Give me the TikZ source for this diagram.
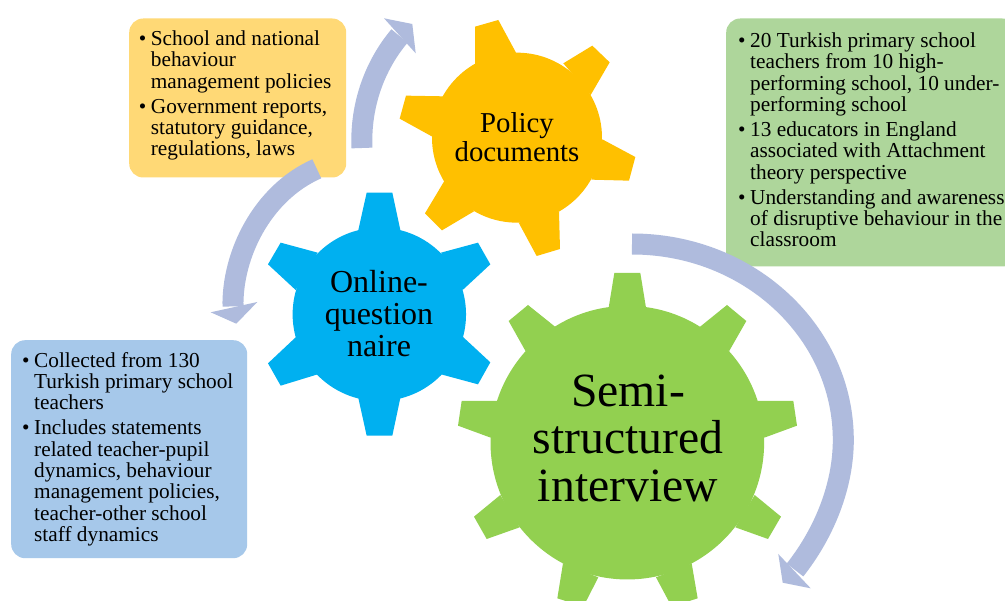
\documentclass[tikz,border=0pt]{standalone}
\usepackage{fontspec}
\setmainfont{Liberation Serif}
\definecolor{arrowc}{HTML}{AFBBDD}
\definecolor{goldc}{HTML}{FFC000}
\definecolor{bluec}{HTML}{00B0F0}
\definecolor{greenc}{HTML}{92D050}
\definecolor{boxy}{HTML}{FFD976}
\definecolor{boxg}{HTML}{AED69B}
\definecolor{boxb}{HTML}{A6C8EA}
\newcommand{\bul}{\makebox[0pt][r]{•\hspace{4.5pt}}}
\tikzset{
  infobox/.style={rounded corners=14pt,anchor=north west,inner sep=0pt},
  infotext/.style={anchor=north west,inner sep=0pt,align=left,font=\fontsize{21.3}{21.3}\selectfont},
  flow/.style={draw=arrowc,line width=21pt,line cap=butt},
  head/.style={fill=arrowc},
  geartext/.style={align=center,inner sep=0pt}
}
\begin{document}
\begin{tikzpicture}[x=1pt,y=-1pt]
\useasboundingbox (0,0) rectangle (1005,601);
\clip (0,0) rectangle (1005,601);
\fill[white] (0,0) rectangle (1005,601);
% info boxes
\node[infobox,fill=boxy,minimum width=217pt,minimum height=159pt] (ybox) at (129,18.3) {};
\node[infobox,fill=boxg,minimum width=290pt,minimum height=248pt] (gbox) at (726,18.3) {};
\node[infobox,fill=boxb,minimum width=236pt,minimum height=218pt] (bbox) at (11,340) {};
\node[infotext] (ytext) at (150.7,30.5) {\bul School and national\\behaviour\\management policies\\[3.8pt]\bul Government reports,\\statutory guidance,\\regulations, laws};
\node[infotext] (gtext) at (750,32.5) {\bul 20 Turkish primary school\\teachers from 10 high-\\performing school, 10 under-\\performing school\\[3.8pt]\bul 13 educators in England\\associated with Attachment\\theory perspective\\[3.8pt]\bul Understanding and awareness\\of disruptive behaviour in the\\classroom};
\node[infotext] (btext) at (34,352) {\bul Collected from 130\\Turkish primary school\\teachers\\[3.8pt]\bul Includes statements\\related teacher-pupil\\dynamics, behaviour\\management policies,\\teacher-other school\\staff dynamics};
% arrows
\draw[flow] (362,148) .. controls (360,105) and (375,65) .. (399.5,36);
\fill[head] (384,18.3) -- (412.3,24) -- (415.7,53.3) -- cycle;
\draw[flow] (316.8,168.8) .. controls (262,193) and (232,255) .. (233,306.5);
\fill[head] (210.7,312.3) -- (236.3,323.7) -- (257.3,302) -- cycle;
\draw[flow] (632,244) .. controls (749,244) and (843.3,332) .. (843.3,440) .. controls (843.3,485) and (825,532) .. (795,570);
\fill[head] (778.3,554) -- (782.7,582.7) -- (810.7,588.3) -- cycle;
% gold gear
\begin{scope}[shift={(340pt,0pt)},x=0.33333pt,y=-0.33333pt,fill=goldc]
\fill (531,413) circle[radius=85pt];
\fill (405,192) -- (405,80) -- (475,60) -- (528,158) -- cycle;
\fill (670,190) -- (757,137) -- (809,187) -- (752,285) -- cycle;
\fill (787,418) -- (886,471) -- (867,542) -- (754,539) -- cycle;
\fill (657,635) -- (660,747) -- (590,768) -- (536,668) -- cycle;
\fill (402,634) -- (306,691) -- (255,640) -- (313,543) -- cycle;
\fill (277,410) -- (179,356) -- (198,287) -- (311,289) -- cycle;
\end{scope}
% blue gear
\begin{scope}[shift={(250pt,-180pt)},x=0.33333pt,y=-0.33333pt,fill=bluec]
\fill (388,403) circle[radius=86.7pt];
\fill (325,150) -- (350,38) -- (427,38) -- (451,150) -- cycle;
\fill (573,218) -- (684,188) -- (721,253) -- (638,330) -- cycle;
\fill (638,470) -- (721,547) -- (684,613) -- (573,583) -- cycle;
\fill (451,654) -- (427,767) -- (350,767) -- (325,654) -- cycle;
\fill (203,583) -- (92,617) -- (54,550) -- (137,472) -- cycle;
\fill (137,330) -- (54,253) -- (92,188) -- (203,218) -- cycle;
\end{scope}
% green gear
\begin{scope}[shift={(450pt,-260pt)},x=0.33333pt,y=-0.33333pt,fill=greenc]
\fill (532,548) circle[radius=136.8pt];
\fill (476,143) -- (493,39) -- (571,39) -- (588,143) -- cycle;
\fill (748,202) -- (831,135) -- (889,183) -- (837,274) -- cycle;
\fill (922,423) -- (1030,423) -- (1041,497) -- (943,533) -- cycle;
\fill (914,705) -- (993,770) -- (954,837) -- (856,802) -- cycle;
\fill (725,910) -- (743,1015) -- (665,1040) -- (618,952) -- cycle;
\fill (445,952) -- (400,1040) -- (322,1015) -- (339,910) -- cycle;
\fill (209,802) -- (110,837) -- (72,770) -- (151,705) -- cycle;
\fill (122,533) -- (24,497) -- (35,423) -- (143,423) -- cycle;
\fill (227,274) -- (176,183) -- (234,135) -- (315,200) -- cycle;
\end{scope}
% labels
\node[geartext,font=\fontsize{28.8}{29.3}\selectfont] (policy) at (517,137) {Policy\\documents};
\node[geartext,font=\fontsize{32}{32}\selectfont] (online) at (379,314) {Online-\\question\\naire};
\node[geartext,font=\fontsize{47.7}{47.5}\selectfont] (semi) at (628,438) {Semi-\\structured\\interview};
\end{tikzpicture}
\end{document}
